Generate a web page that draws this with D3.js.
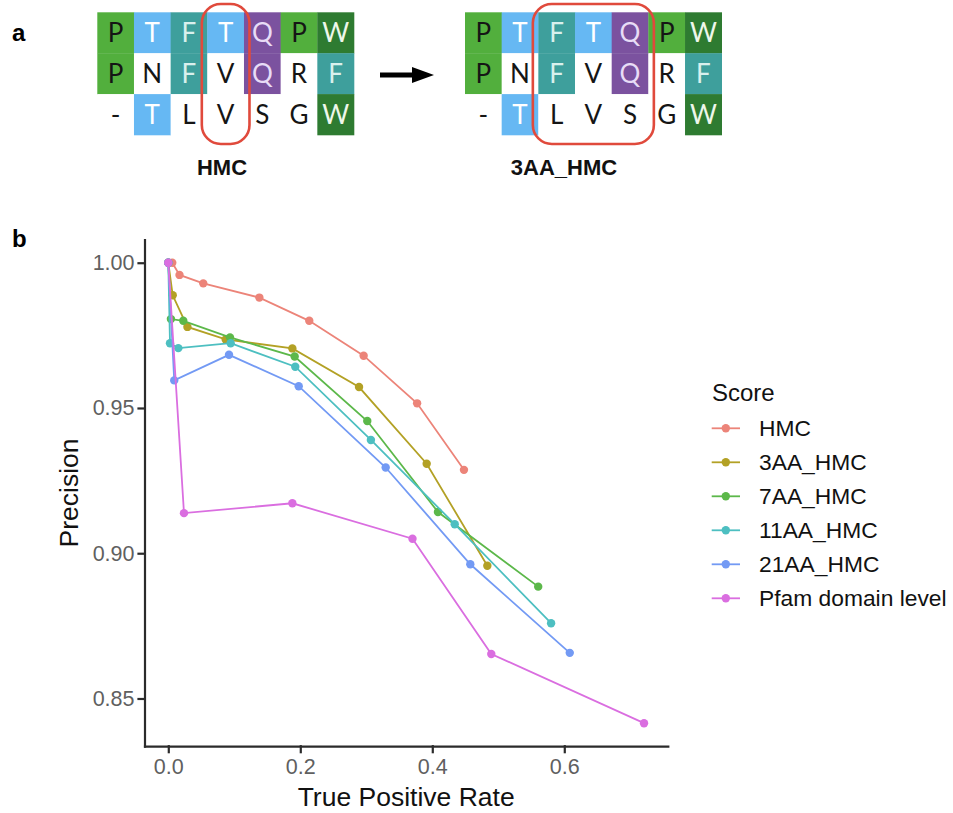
<!DOCTYPE html>
<html>
  <head>
    <meta charset="utf-8" />
    <title>HMC alignment and precision vs TPR</title>
    <style>
      body {
        margin: 0;
        background: #fff;
      }
      svg text {
        font-family: "Liberation Sans", Arial, sans-serif;
      }
      .line {
        fill: none;
        stroke-width: 1.8px;
      }
      .axis path,
      .axis line {
        stroke: #2b2b2b;
        stroke-width: 2.2px;
        stroke-linecap: square;
      }
      .axis text {
        fill: #606060;
        font-size: 21.5px;
        font-family: "Liberation Sans", Arial, sans-serif;
      }
    </style>
  </head>
  <body>
    <svg id="chart"></svg>

    <script src="https://d3js.org/d3.v7.min.js"></script>
    <script>
      // panel a: three aligned sequences, shading key per cell
      const alignRows = ["PTFTQPW", "PNFVQRF", "-TLVSGW"];
      const alignShades = ["gbtbpgd", "g.t.p.t", ".b....d"];
      const alignLabels = ["HMC", "3AA_HMC"];
      const boxCols = [[3, 3], [2, 4]];

      // panel b: [true positive rate, precision]
      const scoreNames = ["HMC", "3AA_HMC", "7AA_HMC", "11AA_HMC", "21AA_HMC", "Pfam domain level"];
      const hmc = [[0.006, 1.0], [0.017, 0.9958], [0.053, 0.9929], [0.138, 0.988], [0.2136, 0.98], [0.296, 0.968], [0.377, 0.9516], [0.448, 0.9287]];
      const aa3 = [[0, 1.0], [0.0067, 0.9888], [0.029, 0.9779], [0.087, 0.9736], [0.188, 0.9705], [0.289, 0.9572], [0.3915, 0.9308], [0.4834, 0.8957]];
      const aa7 = [[0, 1.0], [0.004, 0.9806], [0.0227, 0.98], [0.0935, 0.9743], [0.1915, 0.9677], [0.3015, 0.9455], [0.4086, 0.9142], [0.5605, 0.8885]];
      const aa11 = [[0, 1.0], [0.0026, 0.9723], [0.0152, 0.9706], [0.0945, 0.9723], [0.1924, 0.9642], [0.307, 0.939], [0.434, 0.91], [0.58, 0.8759]];
      const aa21 = [[0, 1.0], [0.009, 0.9595], [0.092, 0.9683], [0.1976, 0.9575], [0.3294, 0.9295], [0.4576, 0.8962], [0.6083, 0.8657]];
      const pfam = [[0, 1.0], [0.0238, 0.9138], [0.188, 0.9172], [0.37, 0.905], [0.4894, 0.8653], [0.7208, 0.8415]];
      const xTicks = [0, 0.2, 0.4, 0.6];
      const yTicks = [0.85, 0.9, 0.95, 1.0];

      const width = 953;
      const height = 813;

      const svg = d3.select("#chart").attr("width", width).attr("height", height);

      // ---------- panel a ----------
      const shadeFill = { g: "#52AF3D", b: "#66B8F3", t: "#3E9F9C", p: "#7B529F", d: "#2E7B31", ".": "#ffffff" };
      const shadeInk = { g: "#151515", b: "#ffffff", t: "#d9f0ed", p: "#e8dcf6", d: "#eef7ea", ".": "#151515" };

      const colX = d3.scaleBand().domain(d3.range(7)).range([0, 256.7]);
      const rowY = d3.scaleBand().domain(d3.range(3)).range([12.3, 135]);
      const gridLeft = [97.3, 465];

      const cells = [];
      alignRows.forEach((row, r) => {
        row.split("").forEach((ch, c) => {
          cells.push({ r, c, ch, shade: alignShades[r][c] });
        });
      });

      gridLeft.forEach((left, gi) => {
        const g = svg.append("g").attr("transform", `translate(${left},0)`);
        g.selectAll("rect.cell")
          .data(cells)
          .join("rect")
          .attr("class", "cell")
          .attr("x", (d) => colX(d.c))
          .attr("y", (d) => rowY(d.r))
          .attr("width", colX.bandwidth() + 0.3)
          .attr("height", rowY.bandwidth() + 0.3)
          .attr("fill", (d) => shadeFill[d.shade]);
        g.selectAll("text.res")
          .data(cells)
          .join("text")
          .attr("class", "res")
          .attr("x", (d) => colX(d.c) + colX.bandwidth() / 2)
          .attr("y", (d) => rowY(d.r) + rowY.bandwidth() / 2 + 9.3)
          .attr("text-anchor", "middle")
          .style("font-family", "Lato, 'Open Sans', sans-serif")
          .style("font-size", "26px")
          .attr("fill", (d) => shadeInk[d.shade])
          .text((d) => d.ch);

        const [c0, c1] = boxCols[gi];
        g.append("rect")
          .attr("x", colX(c0) - 5.5)
          .attr("y", 4)
          .attr("width", colX(c1) + colX.bandwidth() - colX(c0) + 11)
          .attr("height", 140)
          .attr("rx", 19)
          .attr("fill", "none")
          .attr("stroke", "#E04A3C")
          .attr("stroke-width", 2.6);
      });

      svg.selectAll("text.alabel")
        .data(alignLabels)
        .join("text")
        .attr("class", "alabel")
        .attr("x", (d, i) => [222, 564][i])
        .attr("y", 175)
        .attr("text-anchor", "middle")
        .style("font-size", "22px")
        .style("font-weight", "bold")
        .attr("fill", "#111")
        .text((d) => d);

      // arrow
      svg.append("line")
        .attr("x1", 380)
        .attr("x2", 415)
        .attr("y1", 75)
        .attr("y2", 75)
        .attr("stroke", "#000")
        .attr("stroke-width", 5);
      svg.append("path")
        .attr("d", "M412,67 L434,75 L412,83 Z")
        .attr("fill", "#000");

      svg.append("text")
        .attr("x", 12)
        .attr("y", 40.5)
        .style("font-size", "24px")
        .style("font-weight", "bold")
        .text("a");
      svg.append("text")
        .attr("x", 12)
        .attr("y", 246.5)
        .style("font-size", "24px")
        .style("font-weight", "bold")
        .text("b");

      // ---------- panel b ----------
      const series = [hmc, aa3, aa7, aa11, aa21, pfam];
      const colors = ["#EC8479", "#B3A125", "#5CB84A", "#4DBFC1", "#739AF4", "#DA6EE0"];

      const allPts = series.flat();
      const expand = ([a, b]) => {
        const p = (b - a) * 0.05;
        return [a - p, b + p];
      };
      const xScale = d3
        .scaleLinear()
        .domain(expand(d3.extent(allPts, (d) => d[0])))
        .range([144.5, 667.8]);
      const yScale = d3
        .scaleLinear()
        .domain(expand(d3.extent(allPts, (d) => d[1])))
        .range([746.2, 239.7]);

      svg.append("g")
        .attr("class", "axis")
        .attr("transform", `translate(0,${yScale.range()[0]})`)
        .call(
          d3.axisBottom(xScale)
            .tickValues(xTicks)
            .tickFormat(d3.format(".1f"))
            .tickSize(6)
            .tickSizeOuter(0)
            .tickPadding(7)
        );

      svg.append("g")
        .attr("class", "axis")
        .attr("transform", `translate(${xScale.range()[0]},0)`)
        .call(
          d3.axisLeft(yScale)
            .tickValues(yTicks)
            .tickFormat(d3.format(".2f"))
            .tickSize(6)
            .tickSizeOuter(0)
            .tickPadding(4)
        );

      svg.append("text")
        .attr("x", (xScale.range()[0] + xScale.range()[1]) / 2)
        .attr("y", 806)
        .attr("text-anchor", "middle")
        .style("font-size", "26.5px")
        .attr("fill", "#111")
        .text("True Positive Rate");

      svg.append("text")
        .attr("transform", `translate(78,${(yScale.range()[0] + yScale.range()[1]) / 2}) rotate(-90)`)
        .attr("text-anchor", "middle")
        .style("font-size", "26.5px")
        .attr("fill", "#111")
        .text("Precision");

      const lineGenerator = d3
        .line()
        .x((d) => xScale(d[0]))
        .y((d) => yScale(d[1]));

      const plot = svg.append("g");
      series.forEach((pts, i) => {
        plot.append("path")
          .datum(pts)
          .attr("class", "line")
          .attr("stroke", colors[i])
          .attr("d", lineGenerator);
        plot.selectAll(null)
          .data(pts)
          .join("circle")
          .attr("cx", (d) => xScale(d[0]))
          .attr("cy", (d) => yScale(d[1]))
          .attr("r", 4.2)
          .attr("fill", colors[i]);
      });

      // legend
      const legend = svg.append("g");
      legend.append("text")
        .attr("x", 712)
        .attr("y", 401)
        .style("font-size", "24px")
        .attr("fill", "#111")
        .text("Score");

      const legendY = d3.scalePoint().domain(scoreNames).range([428.3, 598.3]);
      const items = legend.selectAll("g.item")
        .data(scoreNames)
        .join("g")
        .attr("class", "item")
        .attr("transform", (d) => `translate(0,${legendY(d)})`);
      items.append("line")
        .attr("x1", 711.7)
        .attr("x2", 740)
        .attr("stroke", (d, i) => colors[i])
        .attr("stroke-width", 1.8);
      items.append("circle")
        .attr("cx", 725.8)
        .attr("r", 4.2)
        .attr("fill", (d, i) => colors[i]);
      items.append("text")
        .attr("x", 759)
        .attr("y", 8)
        .style("font-size", "22.8px")
        .attr("fill", "#111")
        .text((d) => d);
    </script>
  </body>
</html>
